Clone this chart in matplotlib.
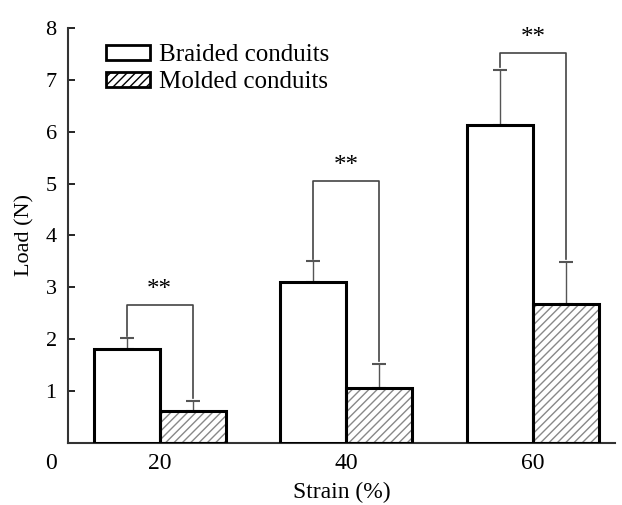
import matplotlib.pyplot as plt
import numpy as np

plt.rcParams['font.family'] = ['Liberation Serif', 'DejaVu Serif']

strain = ['20', '40', '60']
braided = [1.81, 3.10, 6.13]
braided_err = [0.21, 0.40, 1.06]
molded = [0.62, 1.06, 2.68]
molded_err = [0.19, 0.46, 0.81]
bracket_top = [2.66, 5.05, 7.51]
stars = ['**', '**', '**']

x = np.arange(len(strain))
w = 0.353

fig = plt.figure(figsize=(6.22, 5.05), dpi=100)
ax = fig.add_axes([0.109, 0.123, 0.88, 0.8217])

# braided: plain white bars
ax.bar(x - w / 2, braided, w, facecolor='white', edgecolor='black', linewidth=2.2, zorder=3)
# molded: grey hatch underneath, black outline on top
ax.bar(x + w / 2, molded, w, facecolor='white', edgecolor='#888888', hatch='////', linewidth=0, zorder=2)
ax.bar(x + w / 2, molded, w, facecolor='none', edgecolor='black', linewidth=2.2, zorder=3)

ax.errorbar(x - w / 2, braided, yerr=[np.zeros(3), braided_err], fmt='none',
            ecolor='#555555', elinewidth=1, capsize=5, capthick=1.5, zorder=1)
ax.errorbar(x + w / 2, molded, yerr=[np.zeros(3), molded_err], fmt='none',
            ecolor='#555555', elinewidth=1, capsize=5, capthick=1.5, zorder=1)

# significance brackets
for i in range(len(x)):
    lo_l = braided[i] + braided_err[i] + 0.05
    lo_r = molded[i] + molded_err[i] + 0.05
    ax.plot([x[i] - w / 2, x[i] - w / 2, x[i] + w / 2, x[i] + w / 2],
            [lo_l, bracket_top[i], bracket_top[i], lo_r],
            color='#444444', linewidth=1.2, zorder=1)
    ax.text(x[i], bracket_top[i] + 0.08, stars[i], ha='center', va='bottom', fontsize=18)

ax.set_xlim(-0.492, 2.44)
ax.set_ylim(0, 8)
ax.set_xticks(x)
ax.set_xticklabels(strain, fontsize=17)
ax.set_yticks(range(0, 9))
ax.set_yticklabels([''] + [str(v) for v in range(1, 9)], fontsize=16)
ax.text(-0.02, -0.025, '0', transform=ax.transAxes, ha='right', va='top', fontsize=17)
ax.tick_params(axis='y', direction='in', length=5, width=1.2, pad=8)
ax.tick_params(axis='x', length=0, pad=7)

for s in ['top', 'right']:
    ax.spines[s].set_visible(False)
for s in ['left', 'bottom']:
    ax.spines[s].set_linewidth(1.5)
    ax.spines[s].set_color('#333333')

ax.set_xlabel('Strain (%)', fontsize=17, labelpad=6)
ax.set_ylabel('Load (N)', fontsize=16, labelpad=8)

h1 = plt.Rectangle((0, 0), 1, 1, facecolor='white', edgecolor='black', linewidth=2)
h2 = plt.Rectangle((0, 0), 1, 1, facecolor='white', edgecolor='black', hatch='////', linewidth=2)
ax.legend([h1, h2], ['Braided conduits', 'Molded conduits'], loc='upper left',
          bbox_to_anchor=(0.052, 0.985), borderaxespad=0, frameon=False, fontsize=18,
          handlelength=1.75, handleheight=0.52, handletextpad=0.35, labelspacing=0.2)

fig.savefig('out.png', dpi=100)
